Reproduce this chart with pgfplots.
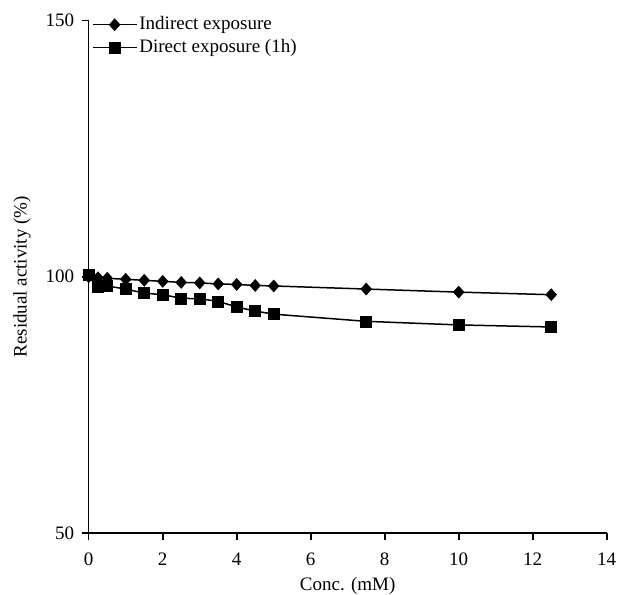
\documentclass[border=0pt]{standalone}
\usepackage{pgfplots}
\pgfplotsset{compat=1.18}
\usepackage{fontspec}
\setmainfont{Liberation Serif}
\begin{document}
\fontsize{19}{22}\selectfont
\begin{tikzpicture}
\begin{axis}[
  scale only axis,
  width=518pt, height=512.5pt,
  xmin=0, xmax=14, ymin=50, ymax=150,
  axis x line*=bottom, axis y line*=left,
  axis line style={line width=1.6pt},
  xtick={0,2,...,14}, ytick={50,100,150},
  tick align=outside,
  major tick length=7pt,
  tick style={line width=1.6pt, black},
  /pgf/number format/assume math mode=true,
  ticklabel style={font=\fontsize{19}{22}\selectfont},
  xticklabel style={anchor=base, yshift=-25pt},
  yticklabel style={anchor=east, xshift=-1pt},
  xlabel={Conc. (mM)},
  ylabel={Residual activity (\%)},
  xlabel style={at={(axis description cs:0.5,0)}, anchor=base, yshift=-57pt, font=\fontsize{19}{22}\selectfont},
  ylabel style={at={(axis description cs:-0.1288,0.5)}, anchor=center, rotate=0, font=\fontsize{19}{22}\selectfont},
  clip=false,
  legend style={draw=none, fill=none, at={(axis description cs:0,1)}, anchor=north west,
    font=\fontsize{19}{22}\selectfont, row sep=3pt, inner sep=0pt, xshift=3pt, yshift=6pt},
  legend cell align=left,
  legend image code/.code={
    \draw[mark repeat=2, mark phase=2, #1] plot coordinates {(0pt,0pt) (22pt,0pt) (44pt,0pt)};
  },
]
\addplot[black, line width=1.5pt, mark=diamond*, mark size=6pt, mark options={xscale=1.2, line width=0.5pt}] coordinates {
(0,100) (0.25,99.8) (0.5,99.7) (1,99.5) (1.5,99.3) (2,99.1) (2.5,98.9) (3,98.8)
(3.5,98.6) (4,98.5) (4.5,98.3) (5,98.2) (7.5,97.6) (10,97.0) (12.5,96.5)};
\addlegendentry{Indirect exposure}
\addplot[black, line width=1.5pt, mark=square*, mark size=5.5pt, mark options={line width=0.5pt}] coordinates {
(0,100.3) (0.25,98.1) (0.5,98.2) (1,97.6) (1.5,96.8) (2,96.5) (2.5,95.8) (3,95.7)
(3.5,95.2) (4,94.1) (4.5,93.3) (5,92.7) (7.5,91.3) (10,90.6) (12.5,90.2)};
\addlegendentry{Direct exposure (1h)}
\end{axis}
\pgfresetboundingbox
\path (current axis.south west) ++(-88.7pt,-61pt) coordinate (bbA);
\path (current axis.north east) ++(13.3pt,20.5pt) coordinate (bbB);
\useasboundingbox (bbA) rectangle (bbB);
\end{tikzpicture}
\end{document}
